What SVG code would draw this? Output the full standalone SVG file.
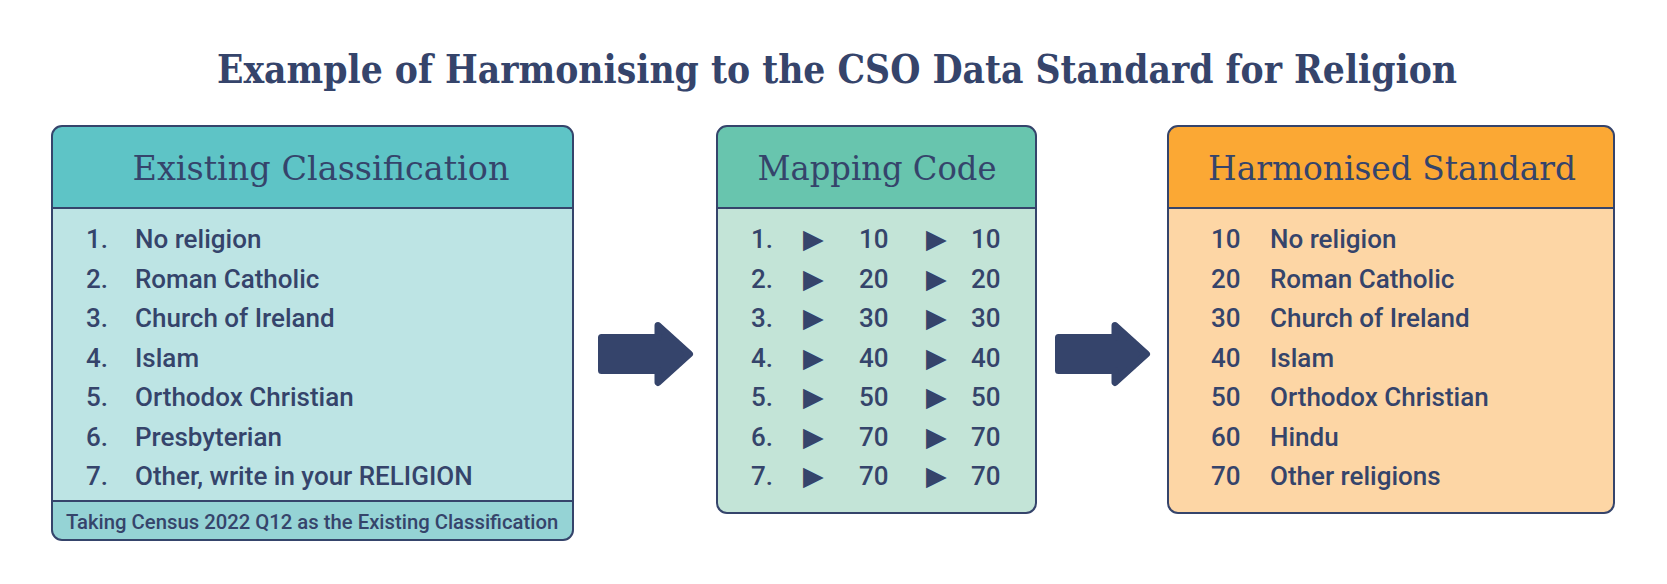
<svg xmlns="http://www.w3.org/2000/svg" width="1667" height="584" viewBox="0 0 1667 584">
<style>
.title{font-family:"DejaVu Serif","Liberation Serif",serif;font-weight:bold;font-size:40px;fill:#35446b}
.head{font-family:"DejaVu Serif","Liberation Serif",serif;font-size:33px;fill:#35446b;text-anchor:middle}
.item{font-family:Roboto,"Liberation Sans",sans-serif;font-weight:500;font-size:26px;fill:#35446b}
.tri{font-family:"DejaVu Sans",sans-serif;font-size:27px;fill:#35446b}
.foot{font-family:Roboto,"Liberation Sans",sans-serif;font-weight:500;font-size:20.3px;fill:#35446b}
.frame{fill:none;stroke:#35446b;stroke-width:2}
.div{stroke:#35446b;stroke-width:2}
.arrow{fill:#35446b;stroke:#35446b;stroke-width:7;stroke-linejoin:round}
</style>
<rect width="1667" height="584" fill="#ffffff"/>
<text class="title" x="217" y="83" textLength="1240" lengthAdjust="spacingAndGlyphs">Example of Harmonising to the CSO Data Standard for Religion</text>

<g id="existing">
<rect x="52" y="126" width="521" height="414" rx="10" fill="#bde4e4"/>
<path d="M52,208 V136 A10,10 0 0 1 62,126 H563 A10,10 0 0 1 573,136 V208 Z" fill="#5ec4c6"/>
<path d="M52,501 H573 V530 A10,10 0 0 1 563,540 H62 A10,10 0 0 1 52,530 Z" fill="#95d3d5"/>
<line class="div" x1="52" y1="208" x2="573" y2="208"/>
<line class="div" x1="52" y1="501" x2="573" y2="501"/>
<rect class="frame" x="52" y="126" width="521" height="414" rx="10"/>
<text class="head" x="321" y="180" textLength="377" lengthAdjust="spacingAndGlyphs">Existing Classification</text>
<text class="item" x="86" y="248">1.</text><text class="item" x="135" y="248">No religion</text>
<text class="item" x="86" y="287.5">2.</text><text class="item" x="135" y="287.5">Roman Catholic</text>
<text class="item" x="86" y="327">3.</text><text class="item" x="135" y="327">Church of Ireland</text>
<text class="item" x="86" y="366.5">4.</text><text class="item" x="135" y="366.5">Islam</text>
<text class="item" x="86" y="406">5.</text><text class="item" x="135" y="406">Orthodox Christian</text>
<text class="item" x="86" y="445.5">6.</text><text class="item" x="135" y="445.5">Presbyterian</text>
<text class="item" x="86" y="485">7.</text><text class="item" x="135" y="485">Other, write in your RELIGION</text>
<text class="foot" x="66" y="529">Taking Census 2022 Q12 as the Existing Classification</text>
</g>

<g id="mapping">
<rect x="717" y="126" width="319" height="387" rx="10" fill="#c3e4d7"/>
<path d="M717,208 V136 A10,10 0 0 1 727,126 H1026 A10,10 0 0 1 1036,136 V208 Z" fill="#68c5ae"/>
<line class="div" x1="717" y1="208" x2="1036" y2="208"/>
<rect class="frame" x="717" y="126" width="319" height="387" rx="10"/>
<text class="head" x="877" y="180" textLength="239" lengthAdjust="spacingAndGlyphs">Mapping Code</text>
<g>
<text class="item" x="751" y="248">1.</text><text class="tri" x="803" y="248">▶</text><text class="item" x="859" y="248">10</text><text class="tri" x="926" y="248">▶</text><text class="item" x="971" y="248">10</text>
<text class="item" x="751" y="287.5">2.</text><text class="tri" x="803" y="287.5">▶</text><text class="item" x="859" y="287.5">20</text><text class="tri" x="926" y="287.5">▶</text><text class="item" x="971" y="287.5">20</text>
<text class="item" x="751" y="327">3.</text><text class="tri" x="803" y="327">▶</text><text class="item" x="859" y="327">30</text><text class="tri" x="926" y="327">▶</text><text class="item" x="971" y="327">30</text>
<text class="item" x="751" y="366.5">4.</text><text class="tri" x="803" y="366.5">▶</text><text class="item" x="859" y="366.5">40</text><text class="tri" x="926" y="366.5">▶</text><text class="item" x="971" y="366.5">40</text>
<text class="item" x="751" y="406">5.</text><text class="tri" x="803" y="406">▶</text><text class="item" x="859" y="406">50</text><text class="tri" x="926" y="406">▶</text><text class="item" x="971" y="406">50</text>
<text class="item" x="751" y="445.5">6.</text><text class="tri" x="803" y="445.5">▶</text><text class="item" x="859" y="445.5">70</text><text class="tri" x="926" y="445.5">▶</text><text class="item" x="971" y="445.5">70</text>
<text class="item" x="751" y="485">7.</text><text class="tri" x="803" y="485">▶</text><text class="item" x="859" y="485">70</text><text class="tri" x="926" y="485">▶</text><text class="item" x="971" y="485">70</text>
</g>
</g>

<g id="harmonised">
<rect x="1168" y="126" width="446" height="387" rx="10" fill="#fdd6a5"/>
<path d="M1168,208 V136 A10,10 0 0 1 1178,126 H1604 A10,10 0 0 1 1614,136 V208 Z" fill="#fba834"/>
<line class="div" x1="1168" y1="208" x2="1614" y2="208"/>
<rect class="frame" x="1168" y="126" width="446" height="387" rx="10"/>
<text class="head" x="1392" y="180" textLength="368" lengthAdjust="spacingAndGlyphs">Harmonised Standard</text>
<text class="item" x="1211" y="248">10</text><text class="item" x="1270" y="248">No religion</text>
<text class="item" x="1211" y="287.5">20</text><text class="item" x="1270" y="287.5">Roman Catholic</text>
<text class="item" x="1211" y="327">30</text><text class="item" x="1270" y="327">Church of Ireland</text>
<text class="item" x="1211" y="366.5">40</text><text class="item" x="1270" y="366.5">Islam</text>
<text class="item" x="1211" y="406">50</text><text class="item" x="1270" y="406">Orthodox Christian</text>
<text class="item" x="1211" y="445.5">60</text><text class="item" x="1270" y="445.5">Hindu</text>
<text class="item" x="1211" y="485">70</text><text class="item" x="1270" y="485">Other religions</text>
</g>

<g id="connectors">
<path class="arrow" d="M601.5,337.5 H658 V325.5 L689.5,354 L658,382.5 V370.5 H601.5 Z"/>
<path class="arrow" d="M1058.5,337.5 H1115 V325.5 L1146.5,354 L1115,382.5 V370.5 H1058.5 Z"/>
</g>
</svg>
